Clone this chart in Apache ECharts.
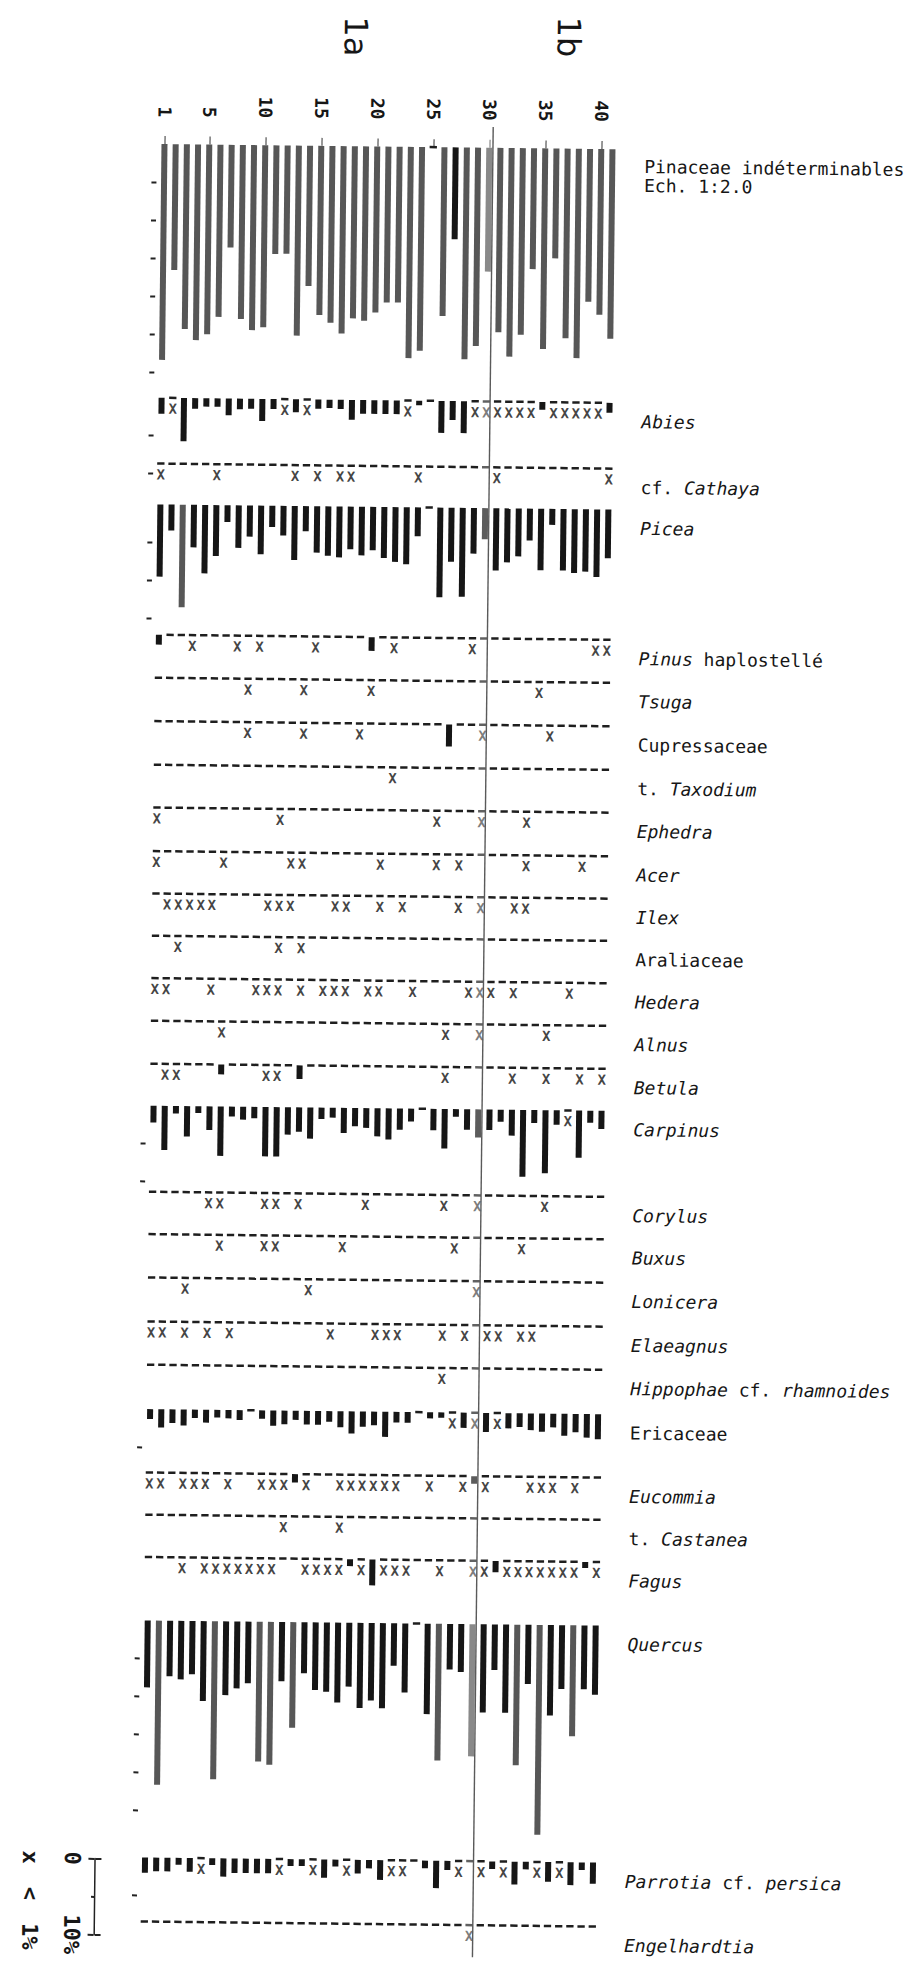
<!DOCTYPE html>
<html><head><meta charset="utf-8">
<script src="https://cdn.jsdelivr.net/npm/echarts@6/dist/echarts.min.js"></script>
<style>
html,body{margin:0;padding:0;background:#fff;overflow:hidden}
#c{width:922px;height:1964px;transform:rotate(0.65deg);transform-origin:461px 982px;background:#fff}
</style></head>
<body><div id="c"></div>
<script>
// ---------------- DATA ----------------
const X = 'x'; // marks a value below 1 %
const samples = ['1','2','3','4','5','6','7','8','9','10','11','12','13','14','15','16','17','18','19','20',
  '21','22','23','24','25','26','27','28','29','30','31','32','33','34','35','36','37','38','39','40','41'];
const sampleTickLabels = ['1','5','10','15','20','25','30','35','40'];
const zoneLabels = ['1a','1b'];
const highlightSample = '30';
const taxa = [
  'Pinaceae indéterminables\nEch. 1:2.0', '{i|Abies}', 'cf. {i|Cathaya}', '{i|Picea}', '{i|Pinus} haplostellé',
  '{i|Tsuga}', 'Cupressaceae', 't. {i|Taxodium}', '{i|Ephedra}', '{i|Acer}', '{i|Ilex}', 'Araliaceae',
  '{i|Hedera}', '{i|Alnus}', '{i|Betula}', '{i|Carpinus}', '{i|Corylus}', '{i|Buxus}', '{i|Lonicera}',
  '{i|Elaeagnus}', '{i|Hippophae} cf. {i|rhamnoides}', 'Ericaceae', '{i|Eucommia}', 't. {i|Castanea}',
  '{i|Fagus}', '{i|Quercus}', '{i|Parrotia} cf. {i|persica}', '{i|Engelhardtia}'
];
const pinaceae = [56.8,33.1,48.6,51.5,49.9,45.3,27.0,45.8,48.7,47.9, 28.6,28.5,50.0,36.9,44.5,46.5,49.3,45.3,45.9,43.7,
  41.0,41.0,55.6,53.6,0,44.4,24.2,55.7,52.2,32.6, 48.5,54.9,49.1,31.8,52.8,28.9,49.9,55.1,40.2,43.6, 49.9];
const abies = [2.1,X,5.7,1.4,1.1,1.1,2.2,1.4,1.3,2.9, 1.3,X,1.7,X,1.2,1.1,1.2,2.6,1.8,1.8,
  1.8,1.8,X,0.6,0,4.2,2.5,4.2,X,X, X,X,X,X,1.0,X,X,X,X,X, 1.3];
const cathaya = [X,0,0,0,0,X,0,0,0,0, 0,0,X,0,X,0,X,X,0,0, 0,0,0,X,0,0,0,0,0,0, X,0,0,0,0,0,0,0,0,0, X];
const picea = [9.5,3.4,13.5,5.6,9.0,6.7,2.2,5.6,4.1,6.4, 2.8,3.9,7.1,3.3,6.1,6.5,6.7,5.6,6.4,5.7,
  6.7,7.2,7.5,3.8,0,11.8,7.1,11.7,6.0,4.1, 8.2,7.1,6.3,4.2,8.1,2.1,8.1,8.4,8.2,8.9, 6.4];
const pinus = [1.3,0,0,X,0,0,0,X,0,X, 0,0,0,0,X,0,0,0,0,1.8, 0,X,0,0,0,0,0,0,X,0, 0,0,0,0,0,0,0,0,0,X, X];
const tsuga = [0,0,0,0,0,0,0,0,X,0, 0,0,0,X,0,0,0,0,0,X, 0,0,0,0,0,0,0,0,0,0, 0,0,0,0,X,0,0,0,0,0, 0];
const cupressaceae = [0,0,0,0,0,0,0,0,X,0, 0,0,0,X,0,0,0,0,X,0, 0,0,0,0,0,0,2.9,0,0,X, 0,0,0,0,0,X,0,0,0,0, 0];
const taxodium = [0,0,0,0,0,0,0,0,0,0, 0,0,0,0,0,0,0,0,0,0, 0,X,0,0,0,0,0,0,0,0, 0,0,0,0,0,0,0,0,0,0, 0];
const ephedra = [X,0,0,0,0,0,0,0,0,0, 0,X,0,0,0,0,0,0,0,0, 0,0,0,0,0,X,0,0,0,X, 0,0,0,X,0,0,0,0,0,0, 0];
const acer = [X,0,0,0,0,0,X,0,0,0, 0,0,X,X,0,0,0,0,0,0, X,0,0,0,0,X,0,X,0,0, 0,0,0,X,0,0,0,0,X,0, 0];
const ilex = [0,X,X,X,X,X,0,0,0,0, X,X,X,0,0,0,X,X,0,0, X,0,X,0,0,0,0,X,0,X, 0,0,X,X,0,0,0,0,0,0, 0];
const araliaceae = [0,0,X,0,0,0,0,0,0,0, 0,X,0,X,0,0,0,0,0,0, 0,0,0,0,0,0,0,0,0,0, 0,0,0,0,0,0,0,0,0,0, 0];
const hedera = [X,X,0,0,0,X,0,0,0,X, X,X,0,X,0,X,X,X,0,X, X,0,0,X,0,0,0,0,X,X, X,0,X,0,0,0,0,X,0,0, 0];
const alnus = [0,0,0,0,0,0,X,0,0,0, 0,0,0,0,0,0,0,0,0,0, 0,0,0,0,0,0,X,0,0,X, 0,0,0,0,0,X,0,0,0,0, 0];
const betula = [0,X,X,0,0,0,1.3,0,0,0, X,X,0,1.8,0,0,0,0,0,0, 0,0,0,0,0,0,X,0,0,0, 0,0,X,0,0,X,0,0,X,0, X];
const carpinus = [2.2,5.8,1.0,4.0,0.9,3.1,6.5,1.3,1.7,1.5, 6.5,6.5,3.6,3.2,4.1,1.5,1.3,3.3,2.4,2.6,
  3.7,4.1,2.8,1.7,0,2.8,5.2,1.0,2.7,3.7, 2.7,1.6,3.4,8.8,1.7,8.3,1.9,X,6.2,1.6, 2.4];
const corylus = [0,0,0,0,0,X,X,0,0,0, X,X,0,X,0,0,0,0,0,X, 0,0,0,0,0,0,X,0,0,X, 0,0,0,0,0,X,0,0,0,0, 0];
const buxus = [0,0,0,0,0,0,X,0,0,0, X,X,0,0,0,0,0,X,0,0, 0,0,0,0,0,0,0,X,0,0, 0,0,0,X,0,0,0,0,0,0, 0];
const lonicera = [0,0,0,X,0,0,0,0,0,0, 0,0,0,0,X,0,0,0,0,0, 0,0,0,0,0,0,0,0,0,X, 0,0,0,0,0,0,0,0,0,0, 0];
const elaeagnus = [X,X,0,X,0,X,0,X,0,0, 0,0,0,0,0,0,X,0,0,0, X,X,X,0,0,0,X,0,X,0, X,X,0,X,X,0,0,0,0,0, 0];
const hippophae = [0,0,0,0,0,0,0,0,0,0, 0,0,0,0,0,0,0,0,0,0, 0,0,0,0,0,0,X,0,0,0, 0,0,0,0,0,0,0,0,0,0, 0];
const ericaceae = [1.3,2.4,1.8,2.1,1.1,1.7,1.0,1.1,1.3,0, 1.1,2.0,1.8,1.2,1.8,1.8,1.4,2.1,2.9,2.0,
  1.8,3.3,1.4,1.4,0,0.8,0.7,X,2.0,X, 2.5,X,2.0,1.8,2.2,2.4,1.8,2.9,2.4,3.1, 3.3];
const eucommia = [X,X,0,X,X,X,0,X,0,0, X,X,X,1.1,X,0,0,X,X,X, X,X,X,0,0,X,0,0,X,1.0, X,0,0,0,X,X,X,0,X,0, 0];
const castanea = [0,0,0,0,0,0,0,0,0,0, 0,0,X,0,0,0,0,X,0,0, 0,0,0,0,0,0,0,0,0,0, 0,0,0,0,0,0,0,0,0,0, 0];
const fagus = [0,0,0,X,0,X,X,X,X,X, X,X,0,0,X,X,X,X,0.9,X, 3.4,X,X,X,0,0,X,0,0,X, X,1.5,X,X,X,X,X,X,X,0.8, X];
const quercus = [8.8,21.6,7.3,7.7,7.0,10.5,20.8,9.7,8.8,8.1, 18.4,18.8,7.8,13.9,6.7,8.9,9.1,10.5,8.4,11.2,
  10.2,11.2,5.6,9.1,0,11.9,18.0,6.0,6.3,17.4, 11.6,6.0,11.6,18.5,7.8,27.6,11.9,8.4,14.6,8.4, 9.1];
const parrotia = [2.0,1.8,1.8,0.9,1.8,X,0.9,2.4,1.9,1.9, 1.9,1.9,X,0.9,0.9,X,2.4,0.9,X,1.8,
  1.1,2.6,X,X,0,1.0,3.6,1.2,X,0, X,1.0,X,3.0,1.0,X,2.6,X,3.0,1.0, 2.8];
const engelhardtia = [0,0,0,0,0,0,0,0,0,0, 0,0,0,0,0,0,0,0,0,0, 0,0,0,0,0,0,0,0,0,X, 0,0,0,0,0,0,0,0,0,0, 0];
// percentage scale ticks drawn on the left of each bar curve (0 = none)
const tickMax = [60,10,0,15,0,0,0,0,0,0,0,0,0,0,0,10,0,0,0,0,0,5,0,0,0,25,5,0];
const scaleTicks = ['0','10%'];
const legendText = 'x < 1%';

const values = [pinaceae,abies,cathaya,picea,pinus,tsuga,cupressaceae,taxodium,ephedra,acer,ilex,araliaceae,
  hedera,alnus,betula,carpinus,corylus,buxus,lonicera,elaeagnus,hippophae,ericaceae,eucommia,castanea,
  fagus,quercus,parrotia,engelhardtia];

// ---------------- LAYOUT / STYLE ----------------
const PITCH = 11.2, COL0 = 155;
const GRID_LEFT = COL0 - PITCH / 2, GRID_W = PITCH * samples.length;
const PX = 7.6;                       // px per 1 %
const rowScale = [0.5].concat(new Array(27).fill(1)); // Pinaceae drawn at 1:2
const rowTop = [147.5,401.2,467,507.9,638.2,681.2,724.6,768.2,811,854.6,897,939.2,981.6,1024.2,1067.2,1109.2,
  1195.2,1237.6,1281,1325,1368.2,1412.6,1476,1518.2,1560.5,1624,1861,1925];
const LABEL_X = 635;
const MONO = "'DejaVu Sans Mono', monospace";
const INK = '#161616', GREY = '#575757';

const grids = [], xAxes = [], yAxes = [], series = [], elements = [];
const isLabeled = (i, v) => sampleTickLabels.indexOf(v) >= 0;

values.forEach((vals, r) => {
  const s = rowScale[r] * PX;
  const nums = vals.filter(v => typeof v === 'number');
  const yMax = Math.max(Math.max.apply(null, nums), tickMax[r], 1);
  const step = 5 / rowScale[r];
  const ticks = [];
  for (let t = step; t <= tickMax[r] + 1e-9; t += step) ticks.push(t);
  grids.push({left: GRID_LEFT, top: rowTop[r], width: GRID_W, height: yMax * s});
  const first = r === 0;
  xAxes.push({type: 'category', gridIndex: r, data: samples, position: 'top', boundaryGap: true, show: first,
    axisLine: {show: false}, splitLine: {show: false},
    axisTick: {show: first, interval: isLabeled, alignWithLabel: true, length: 8, lineStyle: {color: '#333', width: 1}},
    axisLabel: {show: first, interval: isLabeled, rotate: -90, margin: 27, fontFamily: MONO, fontSize: 18,
      fontWeight: 'bold', color: INK}});
  yAxes.push({type: 'value', gridIndex: r, inverse: true, min: 0, max: yMax, offset: 2, show: ticks.length > 0,
    axisLine: {show: false}, splitLine: {show: false}, axisLabel: {show: false},
    axisTick: {show: ticks.length > 0, customValues: ticks, length: 5, lineStyle: {color: '#222', width: 2}}});
  series.push({type: 'bar', xAxisIndex: r, yAxisIndex: r, barWidth: 6, silent: true, z: 2,
    data: vals.map(v => (typeof v === 'number' && v > 0) ? v : '-'),
    itemStyle: {color: p => (p.value * s > 97 ? GREY : INK)}});
  series.push({type: 'scatter', xAxisIndex: r, yAxisIndex: r, silent: true, symbol: 'rect', symbolSize: [7.3, 2.5],
    itemStyle: {color: '#1e1e1e', opacity: 1}, z: 2,
    data: vals.map((v, i) => (v === 0 || v === X) ? [samples[i], 0] : null).filter(Boolean)});
  series.push({type: 'scatter', xAxisIndex: r, yAxisIndex: r, silent: true, symbol: 'rect', symbolSize: 1,
    itemStyle: {color: 'rgba(0,0,0,0)'}, z: 3,
    label: {show: true, formatter: 'X', position: 'inside', offset: [0, 11], fontFamily: MONO, fontSize: 14,
      fontWeight: 'bold', color: '#111'},
    data: vals.map((v, i) => v === X ? [samples[i], 0] : null).filter(Boolean)});
  elements.push({type: 'text', x: LABEL_X, y: first ? rowTop[r] + 26.5 : rowTop[r] + 18.5, silent: true,
    style: {text: taxa[r], font: '18px ' + MONO, fill: INK, align: 'left', verticalAlign: 'middle',
      textAlign: 'left', textVerticalAlign: 'middle', lineHeight: 19,
      rich: {i: {font: 'italic 18px ' + MONO, fill: INK}}}});
});

// overlay: highlighted sample column and vertical line
const R = values.length;
const OV_TOP = 126.6, OV_H = 1957 - 126.6;
grids.push({left: GRID_LEFT, top: OV_TOP, width: GRID_W, height: OV_H});
xAxes.push({type: 'category', gridIndex: R, data: samples, show: false, boundaryGap: true});
yAxes.push({type: 'value', gridIndex: R, min: 0, max: 1, show: false});
series.push({type: 'bar', xAxisIndex: R, yAxisIndex: R, silent: true, z: 10, barWidth: PITCH - 1,
  itemStyle: {color: 'rgba(255,255,255,0.3)'},
  data: samples.map(v => v === highlightSample ? 1 : '-')});
grids.push({left: GRID_LEFT + 3.5, top: OV_TOP, width: GRID_W, height: OV_H});
xAxes.push({type: 'category', gridIndex: R + 1, data: samples, show: false, boundaryGap: true});
yAxes.push({type: 'value', gridIndex: R + 1, min: 0, max: 1, show: false});
series.push({type: 'scatter', xAxisIndex: R + 1, yAxisIndex: R + 1, silent: true, z: 11, data: [],
  markLine: {silent: true, symbol: 'none', z: 12, label: {show: false},
    lineStyle: {color: '#5a5a5a', width: 1.4, type: 'solid'}, data: [{xAxis: highlightSample}]}});

// scale bar (0 - 10 %)
const S = R + 2;
grids.push({left: 104.4, top: 1862.5, width: 1, height: 10 * PX});
xAxes.push({type: 'category', gridIndex: S, data: [''], show: false});
yAxes.push({type: 'value', gridIndex: S, inverse: true, min: 0, max: 10, position: 'left',
  axisLine: {show: true, lineStyle: {color: '#222', width: 1.5}}, splitLine: {show: false},
  axisTick: {show: true, customValues: [0, 10], length: 6, lineStyle: {color: '#222', width: 2}},
  axisLabel: {show: true, customValues: [0, 10], formatter: v => (v === 10 ? scaleTicks[1] : scaleTicks[0]),
    rotate: -90, margin: 11, fontFamily: MONO, fontSize: 22, fontWeight: 'bold', color: INK}});
yAxes.push({type: 'value', gridIndex: S, inverse: true, min: 0, max: 10, position: 'right',
  axisLine: {show: false}, splitLine: {show: false}, axisLabel: {show: false},
  axisTick: {show: true, customValues: [0, 10], length: 6, lineStyle: {color: '#222', width: 2}}});
yAxes.push({type: 'value', gridIndex: S, inverse: true, min: 0, max: 10, position: 'left', offset: 0,
  axisLine: {show: false}, splitLine: {show: false}, axisLabel: {show: false},
  axisTick: {show: true, customValues: [5], length: 3, lineStyle: {color: '#222', width: 2}}});
series.push({type: 'scatter', xAxisIndex: S, yAxisIndex: yAxes.length - 3, data: [], silent: true});

// legend "x < 1%" and zone labels
const parts = legendText.split(' ');
elements.push({type: 'text', x: 40.5, y: 1905, rotation: -Math.PI / 2, silent: true,
  style: {text: '{a|' + parts[0] + '}{s| }{a|' + parts[1] + '}{s| }{a|' + parts[2] + '}',
    font: 'bold 22px ' + MONO, fill: INK, align: 'center', verticalAlign: 'middle',
    textAlign: 'center', textVerticalAlign: 'middle',
    rich: {a: {font: 'bold 22px ' + MONO, fill: INK}, s: {font: 'bold 22px ' + MONO, width: 23}}}});
const zoneX = [345, 558], zoneY = [37.7, 35.8];
zoneLabels.forEach((t, k) => elements.push({type: 'text', x: zoneX[k], y: zoneY[k], rotation: -Math.PI / 2, silent: true,
  style: {text: t, font: "32px 'DejaVu Sans', sans-serif", fill: INK, align: 'center', verticalAlign: 'middle',
    textAlign: 'center', textVerticalAlign: 'middle'}}));

const chart = echarts.init(document.getElementById('c'), null, {renderer: 'svg', width: 922, height: 1964});
chart.setOption({
  animation: false, backgroundColor: '#fff',
  grid: grids, xAxis: xAxes, yAxis: yAxes, series: series,
  graphic: {elements: elements}
});
</script>
</body></html>
